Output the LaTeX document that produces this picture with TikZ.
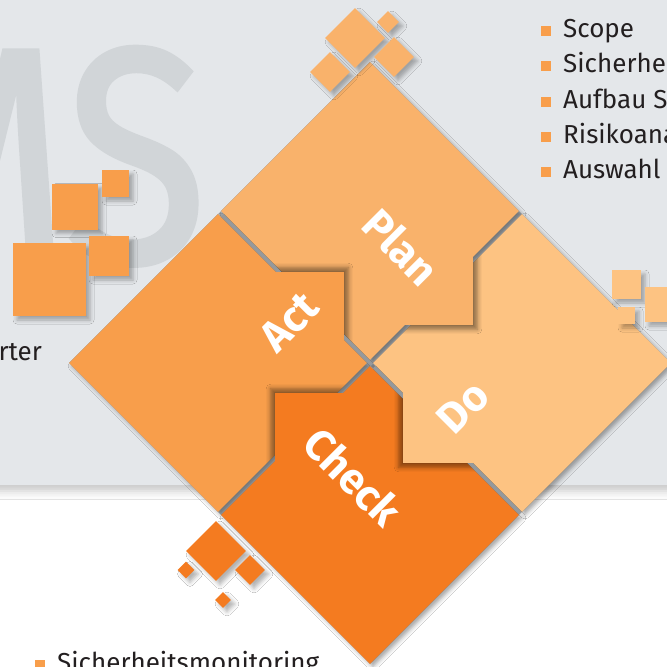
\documentclass[tikz,border=0pt]{standalone}
\usepackage{fontspec}
\setmainfont{Fira Sans}
\newfontfamily\letterfont[FakeBold=1.5]{Fira Sans}
\usepackage{tikz}
\usetikzlibrary{shapes.geometric}
\usetikzlibrary{shadows.blur}
\definecolor{planorange}{HTML}{F9B26B}
\definecolor{actorange}{HTML}{F89E4B}
\definecolor{doorange}{HTML}{FDC382}
\definecolor{checkorange}{HTML}{F47B20}
\definecolor{panelgray}{HTML}{E4E7EA}
\definecolor{lettergray}{HTML}{D1D5D8}
\definecolor{gapgray}{HTML}{ADB2B6}
\definecolor{textdark}{HTML}{231F20}
\tikzset{soft shadow/.style={blur shadow={shadow xshift=3pt,
                                          shadow yshift=-3pt,
                                          shadow blur radius=4pt,
                                          shadow opacity=35}}}
\tikzset{piece/.style={diamond,
                       minimum width=298pt,
                       minimum height=298pt,
                       inner sep=0pt,
                       soft shadow}}
\tikzset{tab/.style={rectangle,minimum size=72pt,inner sep=0pt}}
\tikzset{tab glow/.style={tab,
                          blur shadow={shadow xshift=0pt,
                                       shadow yshift=0pt,
                                       shadow scale=1.12,
                                       shadow blur radius=4pt,
                                       shadow opacity=45}}}
\tikzset{deco box/.style={rectangle,inner sep=0pt,
                          blur shadow={shadow xshift=4pt,
                                       shadow yshift=-4pt,
                                       shadow blur radius=4pt,
                                       shadow opacity=30}}}
\tikzset{deco diamond/.style={diamond,inner sep=0pt,
                              blur shadow={shadow xshift=4pt,
                                           shadow yshift=-4pt,
                                           shadow blur radius=4pt,
                                           shadow opacity=30}}}
\tikzset{phase/.style={text=white,inner sep=0pt,
                       font=\fontsize{43}{43}\selectfont\bfseries}}
\tikzset{bullet/.style={rectangle,fill=actorange,minimum size=10pt,inner sep=0pt}}
\tikzset{item/.style={anchor=base west,inner sep=0pt,text=textdark,
                      font=\fontsize{26}{26}\selectfont}}

\begin{document}
\begin{tikzpicture}
      [
      x=1pt,y=-1pt,
      ]
      \useasboundingbox (0,0) rectangle (667,667);
      \clip (0,0) rectangle (667,667);
      \fill [white] (0,0) rectangle (667,667);

      % panel and letters
      \fill [panelgray,blur shadow={shadow xshift=0pt,shadow yshift=-6pt,
             shadow blur radius=8pt,shadow opacity=22}]
      (-20,-20) rectangle (690,485);
      \node [text=lettergray,anchor=base east,inner sep=0pt,
             font=\fontsize{100}{100}\letterfont] (letters) at (207,262)
            {\scalebox{0.85}[1]{\resizebox{!}{215pt}{MS}}};

      % left squares
      \foreach \x/\y/\w [count=\i] in
      {49.5/279.5/73, 75/206.5/46, 115.5/183.5/27, 109/256/40}
      {
      \node [deco box,fill=actorange,minimum size=\w pt] (L\i) at (\x,\y) {};
      }

      % board
      \node [diamond,minimum width=602pt,minimum height=602pt,inner sep=0pt,
             fill=gapgray] (board) at (370,363) {};
      \node [piece,fill=planorange]  (planP)  at (370,211) {};
      \node [piece,fill=actorange]   (actP)   at (218,363) {};
      \node [piece,fill=doorange]    (doP)    at (522,363) {};
      \node [piece,fill=checkorange] (checkP) at (370,515) {};

      % tabs
      \foreach \c/\x/\y/\n/\t in
      {
      planorange/437/289/doP/planT,
      actorange/308/308/planP/actT,
      checkorange/311/429/actP/checkT,
      doorange/439/427/checkP/doT
      }
      {
      \begin{scope}
        \clip (\n.north) -- (\n.east) -- (\n.south) -- (\n.west) -- cycle;
        \node [tab glow,fill=\c] (\t G) at (\x,\y) {};
      \end{scope}
      \node [tab,fill=\c] (\t) at (\x,\y) {};
      }

      % labels
      \node [phase,rotate=-45] (planL)  at (401,247) {Plan};
      \node [phase,rotate=45]  (actL)   at (289,322) {Act};
      \node [phase,rotate=45]  (doL)    at (463,407) {Do};
      \node [phase,rotate=-45] (checkL) at (353,477) {Check};

      % small diamonds and squares round the board
      \foreach \x/\y/\w [count=\i] in
      {355/38/60, 388/22/22, 394/57/40, 330/72/40}
      {
      \node [deco diamond,fill=planorange,minimum size=\w pt] (T\i) at (\x,\y) {};
      }
      \foreach \x/\y/\w [count=\i] in
      {216/551/60, 250/570/30, 186/570/17, 223/600/16}
      {
      \node [deco diamond,fill=checkorange,minimum size=\w pt] (S\i) at (\x,\y) {};
      }
      \foreach \x/\y/\w [count=\i] in
      {626.5/284.5/29, 662.5/304.5/35, 626.5/315.5/17}
      {
      \node [deco box,fill=doorange,minimum size=\w pt] (R\i) at (\x,\y) {};
      }

      % lists
      \foreach \y/\t [count=\i] in
      {31/Scope, 66/Sicherhe, 102/Aufbau S, 137/Risikoana, 172/Auswahl}
      {
      \node [bullet] (B\i) at (546,\y) {};
      \node [item] (I\i) at (563,\y+6.5) {\t};
      }
      \node [item,anchor=base east] (left) at (42,360) {rter};
      \node [bullet] (B6) at (40,665) {};
      \node [item] (I6) at (57,671) {Sicherheitsmonitoring};

\end{tikzpicture}
\end{document}
